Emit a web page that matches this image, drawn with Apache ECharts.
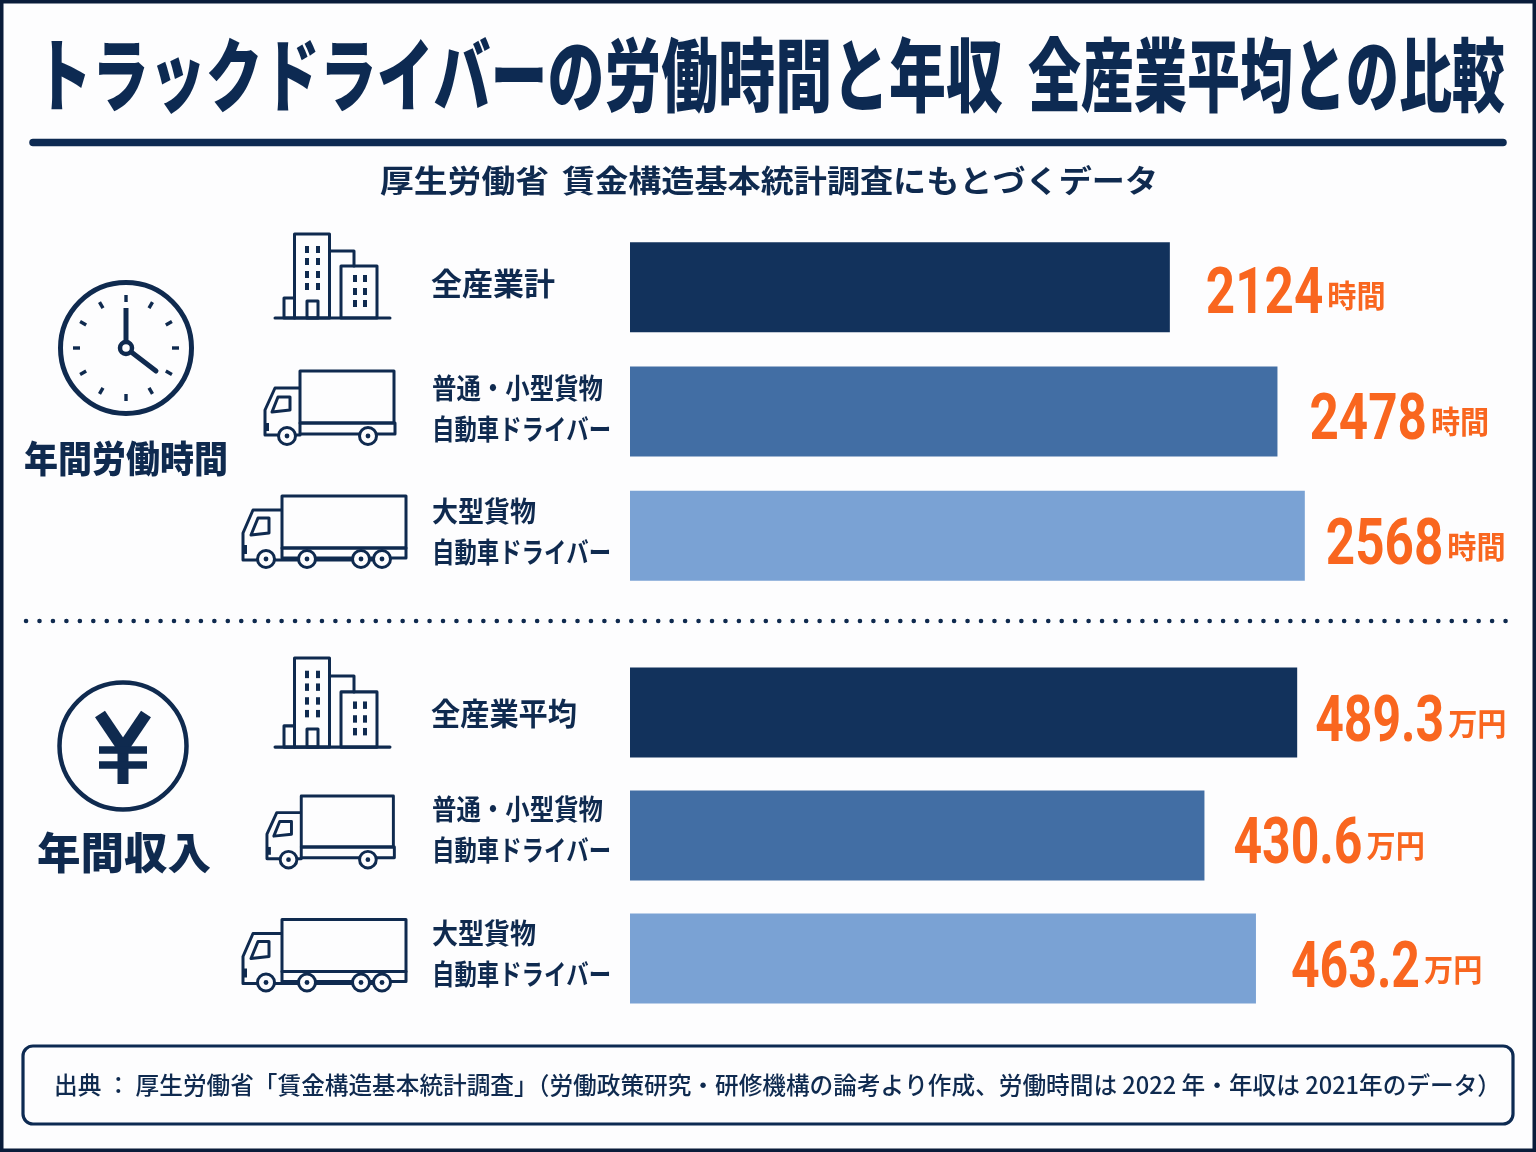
<!DOCTYPE html>
<html lang="ja">
<head>
<meta charset="utf-8">
<title>トラックドライバーの労働時間と年収</title>
<style>html,body{margin:0;padding:0;background:#fff}#chart{width:1536px;height:1152px}</style>
<script src="https://cdn.jsdelivr.net/npm/echarts@6/dist/echarts.min.js"></script>
</head>
<body>
<div id="chart"></div>
<script>
// Chart values
const hourCategories = ['全産業計', '普通・小型貨物\n自動車ドライバー', '大型貨物\n自動車ドライバー'];
const hourValues = [2124, 2478, 2568];
const incomeCategories = ['全産業平均', '普通・小型貨物\n自動車ドライバー', '大型貨物\n自動車ドライバー'];
const incomeValues = [489.3, 430.6, 463.2];
const hourUnit = '時間';
const incomeUnit = '万円';

// Texts
const titleLeft = 'トラックドライバーの労働時間と年収';
const titleRight = '全産業平均との比較';
const subtitleLeft = '厚生労働省';
const subtitleRight = '賃金構造基本統計調査にもとづくデータ';
const hoursHeading = '年間労働時間';
const incomeHeading = '年間収入';
const sourceText = '出典 ： 厚生労働省「賃金構造基本統計調査」（労働政策研究・研修機構の論考より作成、労働時間は 2022 年・年収は 2021年のデータ）';

// Palette
const NAVY = '#0d2a52';
const INK = '#0f2a4f';
const BAR_COLORS = ['#12325c', '#426ea4', '#7aa2d4'];
const ORANGE = '#f9661f';
const PAPER = '#fdfdfe';
const JP = '"Noto Sans CJK JP","Noto Sans",sans-serif';
const DIGITS = 'Roboto,"Liberation Sans",sans-serif';

const ctx = document.createElement('canvas').getContext('2d');
// Horizontally squeezes a text so that it fills the given width.
function fitted(text, x, y, width, fontSize, fontWeight, fill) {
  ctx.font = fontWeight + ' ' + fontSize + 'px ' + JP;
  return {
    type: 'text', x: x, y: y, scaleX: width / ctx.measureText(text).width, z: 10,
    style: { text: text, fontSize: fontSize, fontWeight: fontWeight, fontFamily: JP, fill: fill, align: 'left', verticalAlign: 'middle' }
  };
}
const stroke = (w) => ({ stroke: INK, lineWidth: w, fill: 'none', lineCap: 'round', lineJoin: 'round' });
const line = (x1, y1, x2, y2, w, cap) => ({
  type: 'line', shape: { x1, y1, x2, y2 }, style: { stroke: INK, lineWidth: w, lineCap: cap || 'round' }
});
const box = (x, y, width, height, w) => ({ type: 'rect', shape: { x, y, width, height }, style: stroke(w) });
const solid = (x, y, width, height) => ({ type: 'rect', shape: { x, y, width, height }, style: { fill: INK } });

function buildingIcon(x, y, scaleY) {
  const kids = [
    box(19.5, 0, 35, 84, 3), box(66, 32, 36, 52, 3), box(9, 64, 10.5, 20, 3), box(32, 67, 11, 17, 3),
    { type: 'polyline', shape: { points: [[55, 17], [79, 17], [79, 32]] }, style: stroke(3) },
    line(0, 84, 115, 84, 3)
  ];
  [12, 24, 37, 49].forEach((r) => [30, 41].forEach((c) => kids.push(solid(c, r, 4, 7))));
  [41, 54, 66].forEach((r) => [78, 88].forEach((c) => kids.push(solid(c, r, 4, 7))));
  return { type: 'group', x, y, scaleY, children: kids };
}
function wheel(cx, cy) {
  return [
    { type: 'circle', shape: { cx, cy, r: 8.5 }, style: { fill: PAPER, stroke: INK, lineWidth: 3 } },
    { type: 'circle', shape: { cx, cy, r: 2.4 }, style: { fill: INK } }
  ];
}
function smallTruck(x, y, scale) {
  return {
    type: 'group', x, y, scaleX: scale, scaleY: scale, children: [
      box(37, 1, 94, 52, 3), box(37, 53, 95, 11, 3),
      { type: 'polyline', shape: { points: [[36, 18], [12, 18], [2, 40], [2, 65], [37, 65]] }, style: stroke(3) },
      { type: 'polygon', shape: { points: [[9, 42], [15, 27], [27, 27], [27, 40]] }, style: stroke(3) },
      solid(2, 53, 4, 8),
      ...wheel(24, 66), ...wheel(105, 66)
    ]
  };
}
function bigTruck(x, y) {
  const rear = [65, 119, 140];
  return {
    type: 'group', x, y, children: [
      box(40, 1, 124, 52, 3), box(40, 53, 124, 10, 3),
      { type: 'polyline', shape: { points: [[39, 15], [11, 15], [1, 38], [1, 65], [140, 65]] }, style: stroke(3) },
      { type: 'polygon', shape: { points: [[9, 40], [16, 23], [27, 23], [27, 38]] }, style: stroke(3) },
      solid(1, 50, 4, 9),
      ...wheel(24, 64), ...rear.flatMap((c) => wheel(c, 64))
    ]
  };
}
function clockIcon(cx, cy) {
  const kids = [{ type: 'circle', shape: { cx, cy, r: 65.5 }, style: { fill: 'none', stroke: INK, lineWidth: 5 } }];
  for (let i = 0; i < 12; i++) {
    const a = i * Math.PI / 6;
    kids.push(line(cx + 46 * Math.sin(a), cy - 46 * Math.cos(a), cx + 53 * Math.sin(a), cy - 53 * Math.cos(a), 3.4, 'butt'));
  }
  kids.push(
    line(cx, cy, cx, cy - 40, 5, 'butt'),
    line(cx, cy, cx + 30, cy + 23, 5, 'round'),
    { type: 'circle', shape: { cx, cy, r: 6 }, style: { fill: PAPER, stroke: INK, lineWidth: 4.5 } }
  );
  return { type: 'group', children: kids };
}
function yenIcon(cx, cy) {
  return {
    type: 'group', children: [
      { type: 'circle', shape: { cx, cy, r: 63.5 }, style: { fill: 'none', stroke: INK, lineWidth: 4.5 } },
      line(cx - 23, cy - 32, cx, cy + 2, 12, 'butt'),
      line(cx + 23, cy - 32, cx, cy + 2, 12, 'butt'),
      line(cx, cy - 2, cx, cy + 38, 11, 'butt'),
      line(cx - 24, cy + 4, cx + 24, cy + 4, 7.5, 'butt'),
      line(cx - 24, cy + 19, cx + 24, cy + 19, 7.5, 'butt')
    ]
  };
}

// Category captions beside the bars; two-line names get one text element per line.
function captions(names, rowCenters, singleWidth) {
  const widths = { '普通・小型貨物': 171, '自動車ドライバー': 179, '大型貨物': 104 };
  const out = [];
  names.forEach((name, i) => {
    const rows = name.split('\n');
    if (rows.length === 1) {
      out.push(fitted(name, 431, rowCenters[i], singleWidth, 31, 'bold', INK));
    } else {
      out.push(fitted(rows[0], 432, rowCenters[i] - 21, widths[rows[0]], 28, 'bold', INK));
      out.push(fitted(rows[1], 432, rowCenters[i] + 20, widths[rows[1]], 28, 'bold', INK));
    }
  });
  return out;
}

function barSeries(gridIndex, names, values) {
  return {
    type: 'bar', xAxisIndex: gridIndex, yAxisIndex: gridIndex, barWidth: 90, silent: true,
    data: values.map((v, i) => ({ name: names[i], value: v, itemStyle: { color: BAR_COLORS[i] } }))
  };
}

// Condensed value label placed after each bar end, number and unit on one baseline.
function valueLabelSeries(gridIndex, values, unit, digits, numScale, gaps, drops) {
  return {
    type: 'custom', xAxisIndex: gridIndex, yAxisIndex: gridIndex, silent: true, clip: false, z: 5,
    encode: { x: 0, y: 1 },
    data: values.map((v, i) => [v, i]),
    renderItem: (params, api) => {
      const i = params.dataIndex;
      const end = api.coord([api.value(0), i]);
      const x = end[0] + gaps[i];
      const baseline = end[1] + drops[i];
      const num = api.value(0).toFixed(digits);
      ctx.font = 'bold 64px Roboto';
      const numWidth = ctx.measureText(num).width * numScale;
      return {
        type: 'group', children: [
          { type: 'text', x: x, y: baseline - 48, scaleX: numScale, style: {
            text: num, fontFamily: DIGITS, fontWeight: 'bold', fontSize: 64, fill: ORANGE, align: 'left', verticalAlign: 'top' } },
          { type: 'text', x: x + numWidth + 4, y: baseline - 33, scaleX: 0.94, style: {
            text: unit, fontFamily: JP, fontWeight: 'bold', fontSize: 31, fill: ORANGE, align: 'left', verticalAlign: 'top' } }
        ]
      };
    }
  };
}

const hiddenValueAxis = (gridIndex, min, max) => ({ type: 'value', gridIndex, min, max, show: false, splitLine: { show: false } });
const hiddenCategoryAxis = (gridIndex, names) => ({ type: 'category', gridIndex, data: names, inverse: true, show: false });

const chart = echarts.init(document.getElementById('chart'), null, { renderer: 'canvas' });
chart.setOption({
  animation: false,
  backgroundColor: PAPER,
  grid: [
    { left: 630, width: 880, top: 225, height: 373 },
    { left: 630, width: 880, top: 651, height: 369 }
  ],
  xAxis: [hiddenValueAxis(0, 348, 3243), hiddenValueAxis(1, 67, 624)],
  yAxis: [hiddenCategoryAxis(0, hourCategories), hiddenCategoryAxis(1, incomeCategories)],
  series: [
    barSeries(0, hourCategories, hourValues),
    barSeries(1, incomeCategories, incomeValues),
    valueLabelSeries(0, hourValues, hourUnit, 0, 0.8, [36, 32, 21], [26, 27, 28]),
    valueLabelSeries(1, incomeValues, incomeUnit, 1, 0.78, [18, 29, 35], [28, 27, 28])
  ],
  graphic: { elements: [
    { type: 'rect', shape: { x: 1.75, y: 1.75, width: 1532.5, height: 1148.5 }, style: { fill: 'none', stroke: '#0a1c3a', lineWidth: 3.5 }, z: 10 },
    fitted(titleLeft, 35, 75, 968, 80, 900, NAVY),
    fitted(titleRight, 1028, 75, 477, 80, 900, NAVY),
    { type: 'line', shape: { x1: 33, y1: 142.5, x2: 1503, y2: 142.5 }, style: { stroke: NAVY, lineWidth: 7.5, lineCap: 'round' } },
    fitted(subtitleLeft, 380, 180, 169, 31, 'bold', INK),
    fitted(subtitleRight, 562, 180, 596, 31, 'bold', INK),

    clockIcon(126, 348),
    fitted(hoursHeading, 24, 459, 204, 37, 900, INK),
    buildingIcon(275, 234, 1),
    smallTruck(263, 370, 1),
    bigTruck(242, 495),
    ...captions(hourCategories, [283.5, 409, 532], 124),

    { type: 'line', shape: { x1: 26, y1: 621, x2: 1510, y2: 621 }, style: { stroke: INK, lineWidth: 4.5, lineCap: 'round', lineDash: [0.1, 13.35] } },

    yenIcon(123, 746),
    fitted(incomeHeading, 37, 853, 174, 43, 900, INK),
    buildingIcon(275, 658, 1.06),
    smallTruck(265, 795, 0.98),
    bigTruck(242, 918.5),
    ...captions(incomeCategories, [713, 830, 954], 146),

    { type: 'rect', shape: { x: 23, y: 1046, width: 1490, height: 78, r: 10 }, style: { fill: 'none', stroke: NAVY, lineWidth: 3.2 } },
    fitted(sourceText, 54, 1085, 1447, 24, 500, INK)
  ] }
});
</script>
</body>
</html>
